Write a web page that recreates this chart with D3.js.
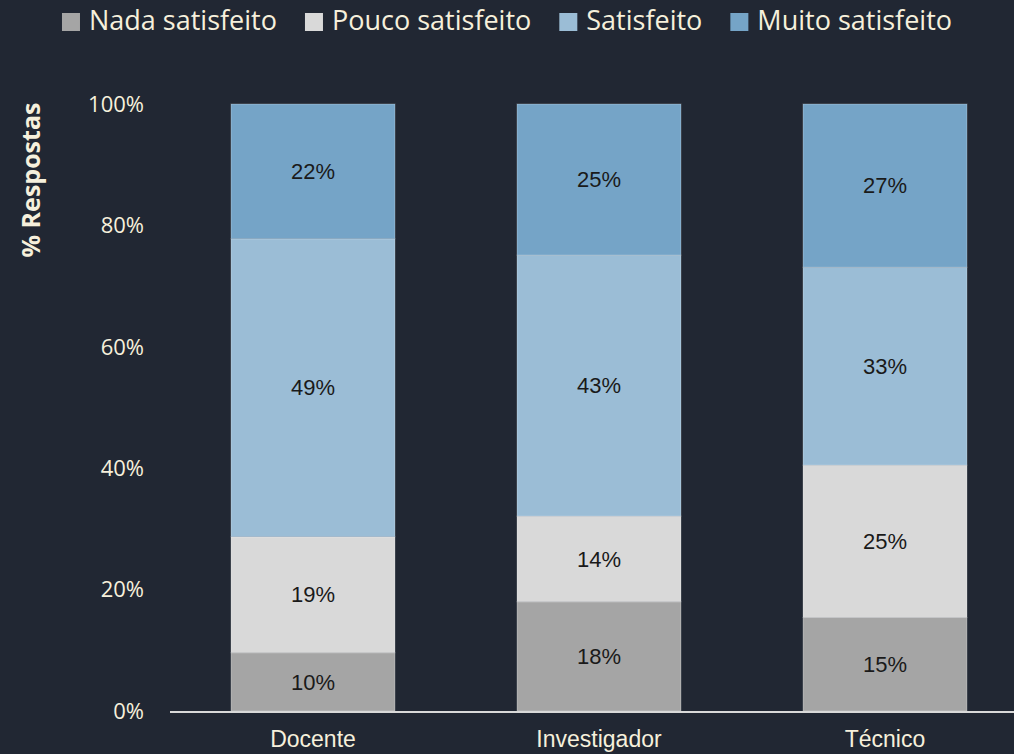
<!DOCTYPE html>
<html>
<head>
<meta charset="utf-8">
<script src="https://cdn.jsdelivr.net/npm/d3@7"></script>
<style>
  html, body { margin: 0; padding: 0; background: #212733; }
  svg { display: block; }
</style>
</head>
<body>
<div id="chart"></div>
<script>
// data (percent of answers)
const categories = ['Docente', 'Investigador', 'Técnico'];
const seriesNames = ['Nada satisfeito', 'Pouco satisfeito', 'Satisfeito', 'Muito satisfeito'];
const nada = [9.6, 18.0, 15.4];
const pouco = [19.1, 14.1, 25.1];
const satisfeito = [49.1, 43.0, 32.6];
const muito = [22.2, 24.9, 26.9];
const yTicks = [0, 20, 40, 60, 80, 100];

const colors = ['#a5a5a5', '#d9d9d9', '#9bbdd6', '#75a4c7'];
const textColor = '#f6f0dc';

const width = 1014, height = 754;

// build rows for d3.stack
const rows = categories.map((c, i) => ({
    cat: c,
    'Nada satisfeito': nada[i],
    'Pouco satisfeito': pouco[i],
    'Satisfeito': satisfeito[i],
    'Muito satisfeito': muito[i]
}));
const stacked = d3.stack().keys(seriesNames)(rows);

const svg = d3.select('#chart')
    .append('svg')
    .attr('width', width)
    .attr('height', height);

const x = d3.scaleBand()
    .domain(categories)
    .range([170, 1028])
    .paddingInner(0.4266)
    .paddingOuter(0.2133);

const y = d3.scaleLinear()
    .domain([0, 100])
    .range([711, 104]);

// y tick labels (no axis line)
svg.append('g')
    .selectAll('text')
    .data(yTicks)
    .join('text')
    .attr('x', 144)
    .attr('y', d => y(d))
    .attr('dy', '0.35em')
    .attr('text-anchor', 'end')
    .attr('fill', textColor)
    .style('font-family', '"Open Sans", sans-serif')
    .style('font-size', '22px')
    .text(d => d + '%');

// y title
svg.append('text')
    .attr('transform', 'translate(40,180) rotate(-90)')
    .attr('text-anchor', 'middle')
    .attr('fill', textColor)
    .style('font-family', '"Open Sans", sans-serif')
    .style('font-weight', 'bold')
    .style('font-size', '25px')
    .text('% Respostas');

// bars
const groups = svg.append('g')
    .selectAll('g')
    .data(stacked)
    .join('g')
    .attr('fill', (d, i) => colors[i]);

groups.selectAll('rect')
    .data(d => d)
    .join('rect')
    .attr('x', d => x(d.data.cat))
    .attr('y', d => y(d[1]))
    .attr('width', x.bandwidth())
    .attr('height', d => y(d[0]) - y(d[1]))
    .attr('stroke', 'rgba(255,255,255,0.25)')
    .attr('stroke-width', 1);

// segment labels
groups.selectAll('text')
    .data(d => d)
    .join('text')
    .attr('x', d => x(d.data.cat) + x.bandwidth() / 2)
    .attr('y', d => (y(d[0]) + y(d[1])) / 2)
    .attr('dy', '0.35em')
    .attr('text-anchor', 'middle')
    .attr('fill', '#1a1a1a')
    .style('font-family', '"Liberation Sans", Arial, sans-serif')
    .style('font-size', '22px')
    .text(d => Math.round(d[1] - d[0]) + '%');

// x axis baseline
svg.append('line')
    .attr('x1', 170)
    .attr('x2', width)
    .attr('y1', y(0) + 1)
    .attr('y2', y(0) + 1)
    .attr('stroke', '#d9d9d9')
    .attr('stroke-width', 2);

// category labels
svg.append('g')
    .selectAll('text')
    .data(categories)
    .join('text')
    .attr('x', d => x(d) + x.bandwidth() / 2)
    .attr('y', 747)
    .attr('text-anchor', 'middle')
    .attr('fill', textColor)
    .style('font-family', '"Liberation Sans", Arial, sans-serif')
    .style('font-size', '23px')
    .text(d => d);

// legend, centred at the top
const legend = svg.append('g');
const items = legend.selectAll('g')
    .data(seriesNames)
    .join('g');

items.append('rect')
    .attr('width', 18)
    .attr('height', 18)
    .attr('y', 13)
    .attr('fill', (d, i) => colors[i]);

items.append('text')
    .attr('x', 27)
    .attr('y', 30)
    .attr('fill', textColor)
    .style('font-family', '"Open Sans", sans-serif')
    .style('font-size', '27px')
    .text(d => d);

let offset = 0;
const widths = [];
items.each(function () {
    const w = d3.select(this).select('text').node().getComputedTextLength();
    widths.push(27 + w);
});
const gap = 28;
const total = d3.sum(widths) + gap * (widths.length - 1);
offset = (width - total) / 2;
items.attr('transform', (d, i) => {
    const t = `translate(${offset},0)`;
    offset += widths[i] + gap;
    return t;
});
</script>
</body>
</html>
